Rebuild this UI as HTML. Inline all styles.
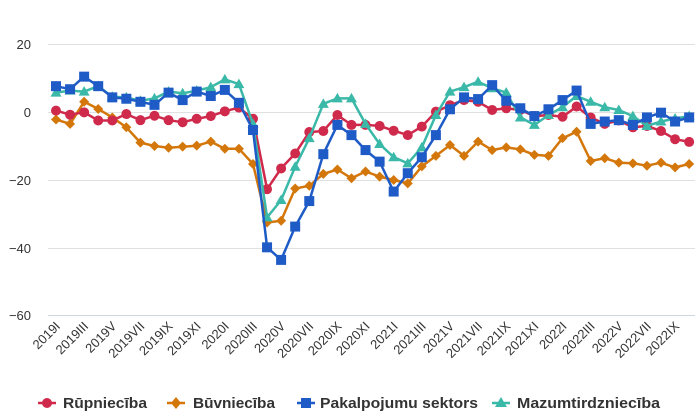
<!DOCTYPE html>
<html><head><meta charset="utf-8"><style>
body{margin:0;background:#fff}
svg{display:block;font-family:"Liberation Sans","DejaVu Sans",sans-serif}
</style></head><body>
<svg id="c" width="700" height="419" xmlns="http://www.w3.org/2000/svg">
<g stroke="#e0e0e0" stroke-width="1">
<line x1="48" x2="695" y1="44.5" y2="44.5"/>
<line x1="48" x2="695" y1="112.5" y2="112.5"/>
<line x1="48" x2="695" y1="180.5" y2="180.5"/>
<line x1="48" x2="695" y1="248.5" y2="248.5"/>
<line x1="48" x2="695" y1="315.5" y2="315.5" stroke="#ccd6e0"/>
</g>
<g font-size="13" fill="#333" text-anchor="end">
<text x="31" y="49">20</text>
<text x="31" y="117">0</text>
<text x="31" y="185">−20</text>
<text x="31" y="253">−40</text>
<text x="31" y="320">−60</text>
</g>
<g id="xl" font-size="13" fill="#333" text-anchor="end"></g>
<g id="series"></g>
<g font-size="15" font-weight="bold" fill="#333">
<line x1="38" x2="56" y1="403" y2="403" stroke="#cf2a4c" stroke-width="2.5"/><circle cx="47" cy="403" r="5" fill="#cf2a4c"/>
<text x="63" y="408" textLength="84" lengthAdjust="spacingAndGlyphs">Rūpniecība</text>
<line x1="167" x2="185" y1="403" y2="403" stroke="#d4770b" stroke-width="2.5"/><path d="M176 397l5 6-5 6-5-6z" fill="#d4770b"/>
<text x="193" y="408" textLength="82" lengthAdjust="spacingAndGlyphs">Būvniecība</text>
<line x1="297" x2="315" y1="403" y2="403" stroke="#1f5bc6" stroke-width="2.5"/><rect x="301" y="398" width="10" height="10" fill="#1f5bc6"/>
<text x="320" y="408" textLength="158" lengthAdjust="spacingAndGlyphs">Pakalpojumu sektors</text>
<line x1="492" x2="510" y1="403" y2="403" stroke="#3ab8a8" stroke-width="2.5"/><path d="M501 397l6 10h-12z" fill="#3ab8a8"/>
<text x="517" y="408" textLength="143" lengthAdjust="spacingAndGlyphs">Mazumtirdzniecība</text>
</g>
</svg>
<script>
var X0=56,DX=14.07,Y0=112,K=3.4;
function px(i){return X0+i*DX} function py(v){return Y0-v*K}
var red=[0.4,-0.8,-0.1,-2.5,-2.5,-0.6,-2.4,-1.1,-2.4,-3,-2,-1.2,0.2,1.3,-2,-22.7,-16.6,-12.2,-5.9,-5.6,-0.9,-3.8,-3.8,-4.1,-5.5,-6.8,-4.3,0.1,2,3.5,3,0.6,1.1,0.6,-1.2,-0.9,-1.4,1.6,-1.6,-3.5,-2.5,-4.5,-4.1,-5.6,-8,-8.8];
var org=[-2.2,-3.5,3,0.9,-1.6,-4.5,-9,-10,-10.5,-10.2,-9.9,-8.7,-10.8,-10.8,-15.3,-32.5,-32,-22.5,-21.7,-18.2,-16.9,-19.5,-17.5,-19,-20,-21,-16,-12.9,-9.7,-12.9,-8.7,-11.2,-10.4,-11,-12.6,-12.9,-7.7,-5.8,-14.4,-13.6,-14.9,-15.1,-15.8,-14.9,-16.3,-15.3];
var blu=[7.6,6.7,10.4,7.6,4.3,3.9,3,2.1,5.7,3.5,6,4.7,6.5,2.7,-5.3,-39.8,-43.5,-33.7,-26.2,-12.4,-3.8,-6.8,-11.2,-14.6,-23.4,-18,-13.3,-6.8,0.8,4.3,3.8,7.9,3.3,1.1,-1.2,0.8,3.5,6.3,-3.5,-2.8,-2.4,-3.8,-1.6,-0.2,-2.8,-1.6];
var tea=[5.7,6.3,6,7.6,4.5,4.3,3.3,4,6,5.5,6.3,7.3,9.6,8.2,-3.5,-31,-25.9,-16.1,-7.7,2.4,4,4,-3.5,-9.4,-13.3,-15.1,-10.4,-0.9,6,7.3,8.9,7,5.7,-1.6,-3.8,-0.9,1.4,4.7,3,1.4,0.6,-1.2,-4.1,-2.8,-1.9,-1.2];
var NS="http://www.w3.org/2000/svg",g=document.getElementById("series");
function el(t,a,p){var e=document.createElementNS(NS,t);for(var k in a)e.setAttribute(k,a[k]);(p||g).appendChild(e);return e}
function draw(d,c,m){var pts=d.map(function(v,i){return px(i).toFixed(1)+","+py(v).toFixed(1)}).join(" ");
el("polyline",{points:pts,fill:"none",stroke:c,"stroke-width":2.5,"stroke-linejoin":"round"});
d.forEach(function(v,i){var x=px(i),y=py(v);
if(m=="c")el("circle",{cx:x,cy:y,r:5,fill:c});
else if(m=="d")el("path",{d:"M"+x+" "+(y-5)+"l5 5-5 5-5-5z",fill:c});
else if(m=="s")el("rect",{x:x-5,y:y-5,width:10,height:10,fill:c});
else el("path",{d:"M"+x+" "+(y-5.5)+"l5.5 9.5h-11z",fill:c});});}
draw(org,"#d4770b","d");draw(red,"#cf2a4c","c");draw(tea,"#3ab8a8","t");draw(blu,"#1f5bc6","s");
var R=["I","III","V","VII","IX","XI"],xl=document.getElementById("xl");
for(var i=0;i<46;i+=2){var yr=2019+Math.floor(i/12),m=R[(i%12)/2];
var t=el("text",{x:px(i)+5,y:327,transform:"rotate(-45 "+(px(i)+5)+" 327)"},xl);t.textContent=yr+m;}
</script>
</body></html>
